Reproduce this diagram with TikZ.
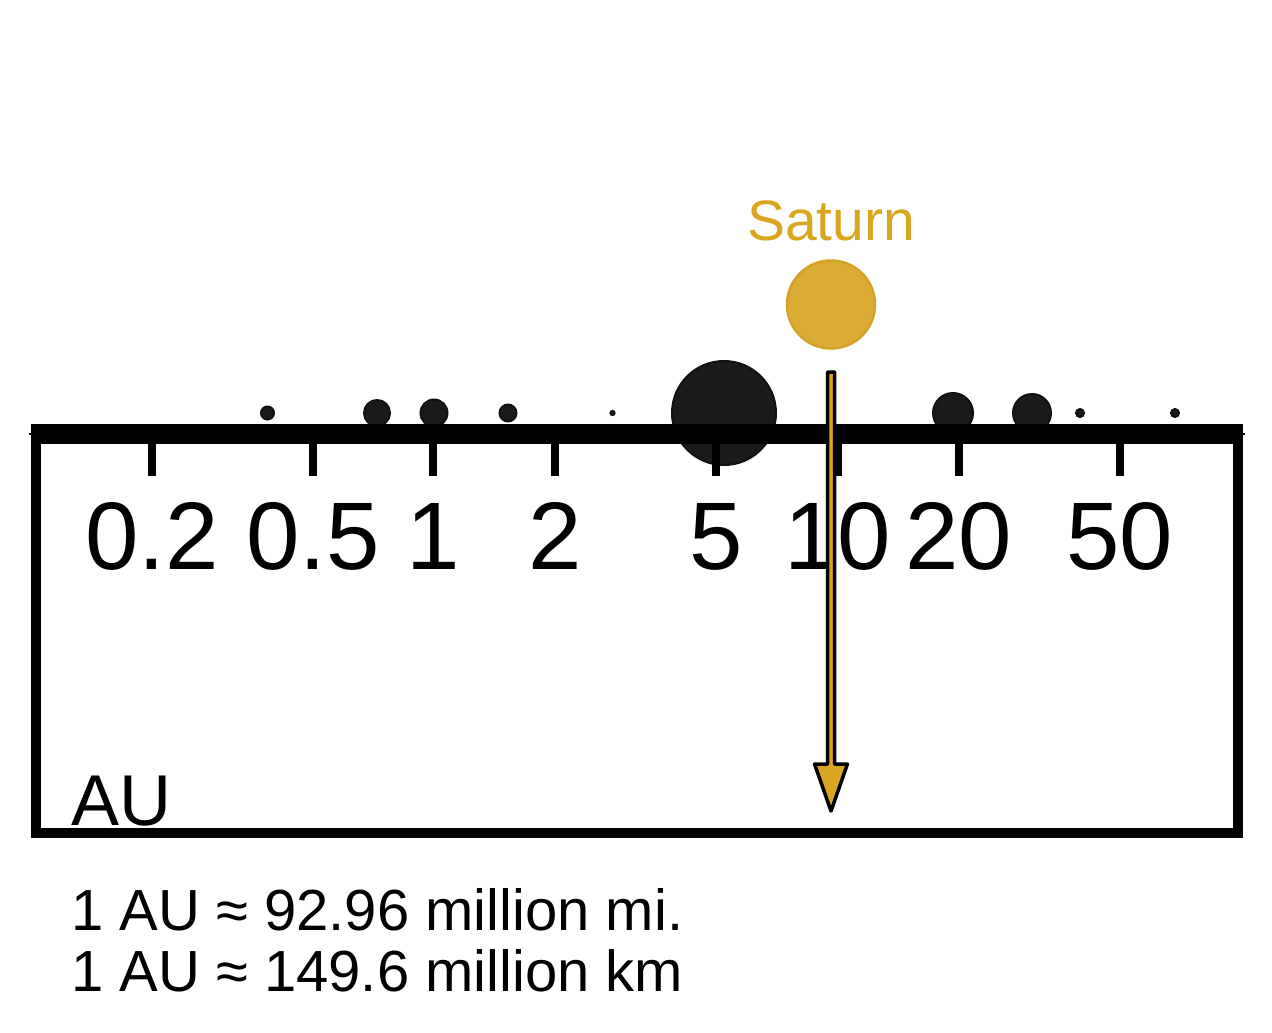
\documentclass[tikz,border=0pt]{standalone}
\usepackage{fontspec}
\setmainfont{Liberation Sans}
\usetikzlibrary{calc}
\definecolor{planet}{RGB}{26,26,26}
\definecolor{planetedge}{RGB}{17,17,17}
\definecolor{satfill}{RGB}{218,172,54}
\definecolor{satedge}{RGB}{212,162,36}
\definecolor{sattext}{RGB}{218,165,32}
\definecolor{arrowgold}{RGB}{218,165,32}
\tikzset{
  body/.style={circle,fill=planet,draw=planetedge,line width=2pt,inner sep=0pt,minimum size=#1},
  ticklabel/.style={anchor=base,inner sep=0pt,font=\fontsize{96}{100}\selectfont},
  tickmark/.style={line width=8pt},
  notetext/.style={anchor=base west,inner sep=0pt,font=\fontsize{58}{62}\selectfont}
}
\begin{document}
\begin{tikzpicture}[x=1pt,y=-1pt]
\useasboundingbox (0,0) rectangle (1272,1033);
% planets
\node[body=13pt] (mercury) at (267.5,413) {};
\node[body=26pt] (venus) at (377,413) {};
\node[body=27pt] (earth) at (434,413) {};
\node[body=17pt] (mars) at (508,413) {};
\node[body=5pt,line width=1.2pt] (ceres) at (612.5,413) {};
\node[body=104pt] (jupiter) at (724,413) {};
\node[body=40pt] (uranus) at (953,413) {};
\node[body=38pt] (neptune) at (1032,413) {};
\node[body=8pt] (pluto) at (1080,413) {};
\node[body=8pt] (eris) at (1175,413) {};
\node[circle,fill=satfill,draw=satedge,line width=2.5pt,inner sep=0pt,minimum size=88pt] (saturn) at (831,304.5) {};
\node[anchor=base,inner sep=0pt,text=sattext,font=\fontsize{57}{60}\selectfont] (satlabel) at (831,240) {Saturn};
% box
\coordinate (boxtl) at (35.5,434);
\coordinate (boxbr) at (1238,833);
\draw[line width=10pt] (35.5,439) -- (35.5,833) -- (1238,833) -- (1238,439);
\coordinate (axl) at (29,434);
\coordinate (axr) at (1245,434);
\draw[line width=1.5pt] (axl) -- (axr);
\draw[line width=20pt] (30.5,434) -- (1243,434);
% ticks
\foreach \x/\lab/\nm in {152/0.2/ta,313/0.5/tb,433/1/tc,555/2/td,716/5/te,838/10/tf,959/20/tg,1120/50/th}{
  \coordinate (\nm) at (\x,444);
  \draw[tickmark] (\nm) -- ++(0,32);
  \node[ticklabel] (l\nm) at (\x,569) {\lab};
}
\node[anchor=base west,inner sep=0pt,font=\fontsize{72}{76}\selectfont] (au) at (71,825) {AU};
\node[notetext] (mi) at (71,930.5) {1 AU ≈ 92.96 million mi.};
\node[notetext] (km) at (71,991.5) {1 AU ≈ 149.6 million km};
% arrow
\coordinate (arrtop) at (831,372);
\coordinate (arrtip) at (831,811);
\draw[fill=arrowgold,line width=3.5pt,line join=round]
  ($(arrtop)+(-3.5,0)$) -- ($(arrtop)+(3.5,0)$) -- ($(arrtip)+(3.5,-47)$) -- ($(arrtip)+(16.5,-47)$)
  -- (arrtip) -- ($(arrtip)+(-16.5,-47)$) -- ($(arrtip)+(-3.5,-47)$) -- cycle;
\end{tikzpicture}
\end{document}
